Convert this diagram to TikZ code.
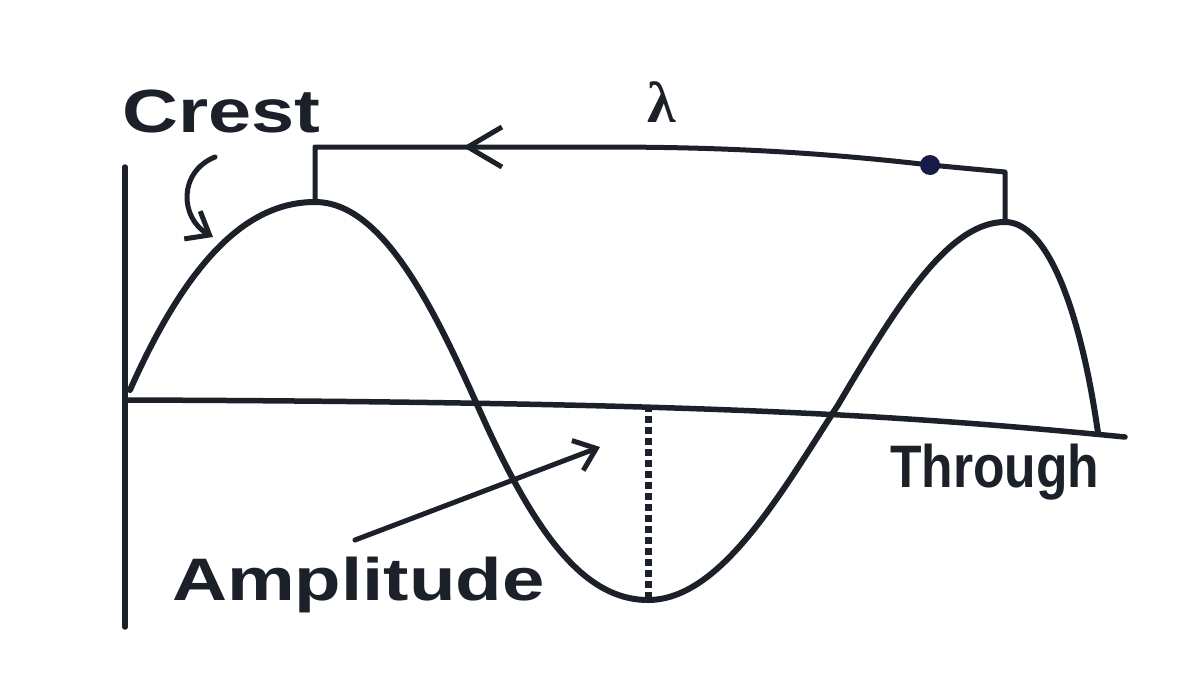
\documentclass[tikz,border=0pt]{standalone}
\usepackage{fontspec}
\usepackage{tikz}
\usetikzlibrary{arrows.meta,decorations.markings}
\newfontfamily\widesans[FakeStretch=1.27]{Liberation Sans}
\newfontfamily\narrowsans[FakeStretch=0.86]{Liberation Sans}
\newfontfamily\greekserif{Liberation Serif}
\definecolor{ink}{RGB}{28,32,40}
\tikzset{
  wave/.style={line width=6pt, ink},
  axis/.style={line width=5.5pt, ink},
  thin/.style={line width=5pt, ink},
  dots/.style={line width=7pt, ink, dash pattern=on 7pt off 4pt, line cap=butt},
  barb/.tip={Straight Barb[length=20pt, width=32pt, line width=5pt]},
  widebarb/.tip={Straight Barb[length=34pt, width=40pt, line width=5pt]},
  lbl/.style={inner sep=0pt, text=ink}
}
\begin{document}
\begin{tikzpicture}[x=1pt, y=-1pt, line join=round, line cap=round]
    \useasboundingbox (0,0) rectangle (1182,675);
    % points of the wave
    \coordinate (start) at (130,390);
    \coordinate (crestL) at (315,202);
    \coordinate (zeroA) at (475,400);
    \coordinate (trough) at (648,600);
    \coordinate (zeroB) at (838,405);
    \coordinate (crestR) at (1005,222);
    \coordinate (stop) at (1098,433);
    % axes
    \draw[axis] (125,167) -- (125,627);
    \draw[axis] (125,400) .. controls (700,402) and (900,415) .. (1125,437);
    % the wave
    \draw[wave] (start) .. controls (190,255) and (250,202) .. (crestL)
      .. controls (380,202) and (430,300) .. (zeroA)
      .. controls (530,525) and (580,600) .. (trough)
      .. controls (720,600) and (780,495) .. (zeroB)
      .. controls (900,300) and (950,222) .. (crestR)
      .. controls (1050,222) and (1082,320) .. (stop);
    % wavelength bracket
    \coordinate (topL) at (315,147);
    \coordinate (topR) at (1005,172);
    \coordinate (dot) at (930,165);
    \draw[thin, postaction={decorate},
      decoration={markings, mark=at position 0.745 with {\arrow{widebarb}}}]
      (crestR) -- (topR) -- (dot) .. controls (800,150) and (700,147) .. (600,147)
      -- (topL) -- (crestL);
    \fill[ink!85!blue] (dot) circle (10pt);
    \node[lbl, font=\greekserif\bfseries\fontsize{58}{60}\selectfont] (lambda) at (662,102) {λ};
    % amplitude
    \coordinate (baseA) at (648,405);
    \draw[dots] (baseA) -- (trough);
    % labels
    \node[lbl, anchor=base west, font=\widesans\bfseries\fontsize{61}{70}\selectfont] (crest) at (122,132) {Crest};
    \node[lbl, anchor=base west, font=\widesans\bfseries\fontsize{60}{70}\selectfont] (amp) at (172,600) {Amplitude};
    \node[lbl, anchor=base west, font=\narrowsans\bfseries\fontsize{60}{70}\selectfont] (through) at (890,487) {Through};
    \coordinate (crestTip) at (213,237);
    \coordinate (ampFrom) at (355,540);
    \coordinate (ampTip) at (600,447);
    \draw[thin, -barb] (215,157) .. controls (178,172) and (180,218) .. (crestTip);
    \draw[thin, -barb] (ampFrom) -- (ampTip);
\end{tikzpicture}
\end{document}
